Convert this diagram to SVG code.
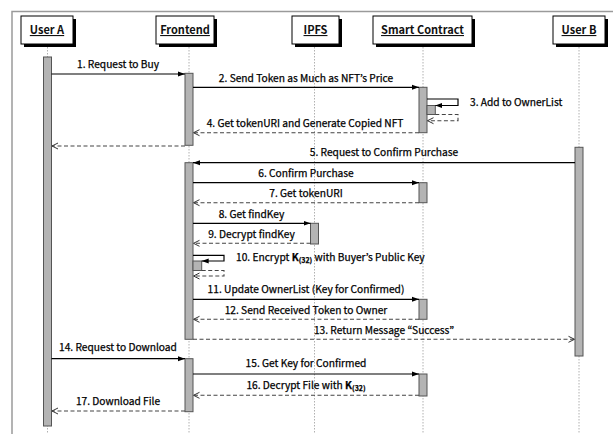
<svg xmlns="http://www.w3.org/2000/svg" width="613" height="434" viewBox="0 0 613 434">
<defs>
<marker id="fill" markerWidth="8" markerHeight="8" refX="7" refY="4" orient="auto" markerUnits="userSpaceOnUse">
<path d="M0,1.5 L7,4 L0,6.5 Z" fill="#000"/>
</marker>
<marker id="open" markerWidth="10" markerHeight="10" refX="7" refY="5" orient="auto" markerUnits="userSpaceOnUse">
<path d="M1,2 L7,5 L1,8" fill="none" stroke="#333" stroke-width="1"/>
</marker>
<style>
.frame{fill:none;stroke:#9a9a9a;stroke-width:1.5}
.shadow{fill:#000}
.box{fill:#fff;stroke:#000;stroke-width:1}
.head{font-family:"Noto Sans CJK KR","Noto Sans",sans-serif;font-size:11px;font-weight:bold;text-anchor:middle;text-decoration:underline;fill:#111}
.life{stroke:#b0b0b0;stroke-width:1;stroke-dasharray:1.5,1.5;fill:none}
.bar{fill:#b4b4b4;stroke:#555;stroke-width:1}
.msg{stroke:#000;stroke-width:1.2;fill:none;marker-end:url(#fill)}
.ret{stroke:#444;stroke-width:1.1;fill:none;stroke-dasharray:4,2.5;marker-end:url(#open)}
.lbl{font-family:"Noto Sans CJK KR","Noto Sans",sans-serif;font-size:10.2px;font-weight:normal;text-anchor:middle;fill:#000;stroke:#000;stroke-width:0.25}
.lbll{font-family:"Noto Sans CJK KR","Noto Sans",sans-serif;font-size:10.2px;font-weight:normal;text-anchor:start;fill:#000;stroke:#000;stroke-width:0.25}
.k{font-weight:700}
.sub{font-size:7px;font-weight:700}
</style>
</defs>
<rect width="613" height="434" fill="#fff"/>
<path class="frame" d="M12,434 V11.5 H613"/>

<g id="lifelines">
<line class="life" x1="47.5" y1="44" x2="47.5" y2="434"/>
<line class="life" x1="189" y1="44" x2="189" y2="434"/>
<line class="life" x1="314.5" y1="44" x2="314.5" y2="434"/>
<line class="life" x1="423" y1="44" x2="423" y2="434"/>
<line class="life" x1="579" y1="44" x2="579" y2="434"/>
</g>

<g id="userA">
<rect class="shadow" x="24" y="19" width="52" height="28"/>
<rect class="box" x="21" y="16" width="52" height="28"/>
<text class="head" x="47" y="34">User A</text>
<rect class="bar" x="43.5" y="57" width="8" height="369"/>
</g>
<g id="frontend">
<rect class="shadow" x="159" y="19" width="58" height="28"/>
<rect class="box" x="156" y="16" width="58" height="28"/>
<text class="head" x="185" y="34">Frontend</text>
<rect class="bar" x="185" y="73.3" width="8" height="72"/>
<rect class="bar" x="185" y="162.7" width="8" height="176.6"/>
<rect class="bar" x="185" y="358.7" width="8" height="53"/>
<rect class="bar" x="193" y="261" width="8.7" height="9.5"/>
</g>
<g id="ipfs">
<rect class="shadow" x="295" y="19" width="47" height="28"/>
<rect class="box" x="292" y="16" width="47" height="28"/>
<text class="head" x="315.5" y="34">IPFS</text>
<rect class="bar" x="310.5" y="223.3" width="8" height="20.7"/>
</g>
<g id="smartContract">
<rect class="shadow" x="376" y="19" width="99" height="28"/>
<rect class="box" x="373" y="16" width="99" height="28"/>
<text class="head" x="422.5" y="34">Smart Contract</text>
<rect class="bar" x="419" y="87.3" width="8" height="45.4"/>
<rect class="bar" x="419" y="182.7" width="8" height="20"/>
<rect class="bar" x="419" y="299.3" width="8" height="20"/>
<rect class="bar" x="419" y="374" width="8" height="22"/>
<rect class="bar" x="427" y="105.5" width="8.3" height="9"/>
</g>
<g id="userB">
<rect class="shadow" x="556" y="19" width="52" height="28"/>
<rect class="box" x="553" y="16" width="52" height="28"/>
<text class="head" x="579" y="34">User B</text>
<rect class="bar" x="575" y="147.3" width="8" height="208.7"/>
</g>

<g id="connectors">
<line class="msg" x1="51.5" y1="74" x2="185" y2="74"/>
<line class="msg" x1="193" y1="87.3" x2="419" y2="87.3"/>
<path class="msg" d="M427,99 H458 V105.5 H435.3"/>
<path class="ret" d="M435.3,114.5 H458 V120.7 H427.5"/>
<line class="ret" x1="419" y1="132.7" x2="193.5" y2="132.7"/>
<line class="ret" x1="185" y1="146" x2="52" y2="146"/>
<line class="msg" x1="575" y1="162.7" x2="193" y2="162.7"/>
<line class="msg" x1="193" y1="182.7" x2="419" y2="182.7"/>
<line class="ret" x1="419" y1="202.7" x2="193.5" y2="202.7"/>
<line class="msg" x1="193" y1="223.3" x2="310.5" y2="223.3"/>
<line class="ret" x1="310.5" y1="243.3" x2="193.5" y2="243.3"/>
<path class="msg" d="M193,255.3 H224 V261 H201.7"/>
<path class="ret" d="M201.7,270.5 H224 V276 H193.5"/>
<line class="msg" x1="193" y1="299.3" x2="419" y2="299.3"/>
<line class="ret" x1="419" y1="319.3" x2="193.5" y2="319.3"/>
<line class="ret" x1="193" y1="339.3" x2="574.5" y2="339.3"/>
<line class="msg" x1="51.5" y1="358.7" x2="185" y2="358.7"/>
<line class="msg" x1="193" y1="374" x2="419" y2="374"/>
<line class="ret" x1="419" y1="395.3" x2="193.5" y2="395.3"/>
<line class="ret" x1="185" y1="411" x2="52" y2="411"/>
</g>

<g id="labels">
<text class="lbl" x="118" y="68">1. Request to Buy</text>
<text class="lbl" x="306" y="81.5">2. Send Token as Much as NFT’s Price</text>
<text class="lbll" x="470" y="105.5">3. Add to OwnerList</text>
<text class="lbl" x="305" y="126.5">4. Get tokenURI and Generate Copied NFT</text>
<text class="lbl" x="384" y="155.5">5. Request to Confirm Purchase</text>
<text class="lbl" x="306" y="177">6. Confirm Purchase</text>
<text class="lbl" x="306" y="197">7. Get tokenURI</text>
<text class="lbl" x="251.5" y="218">8. Get findKey</text>
<text class="lbl" x="251.5" y="238">9. Decrypt findKey</text>
<text class="lbll" x="236" y="260.5">10. Encrypt <tspan class="k">K</tspan><tspan class="sub" dy="2">(32)</tspan><tspan dy="-2"> with Buyer’s Public Key</tspan></text>
<text class="lbl" x="306" y="293">11. Update OwnerList (Key for Confirmed)</text>
<text class="lbl" x="306" y="313.5">12. Send Received Token to Owner</text>
<text class="lbl" x="384" y="334">13. Return Message “Success”</text>
<text class="lbl" x="118" y="351">14. Request to Download</text>
<text class="lbl" x="306" y="367">15. Get Key for Confirmed</text>
<text class="lbl" x="306" y="389">16. Decrypt File with <tspan class="k">K</tspan><tspan class="sub" dy="2">(32)</tspan></text>
<text class="lbl" x="118" y="404.5">17. Download File</text>
</g>
</svg>
